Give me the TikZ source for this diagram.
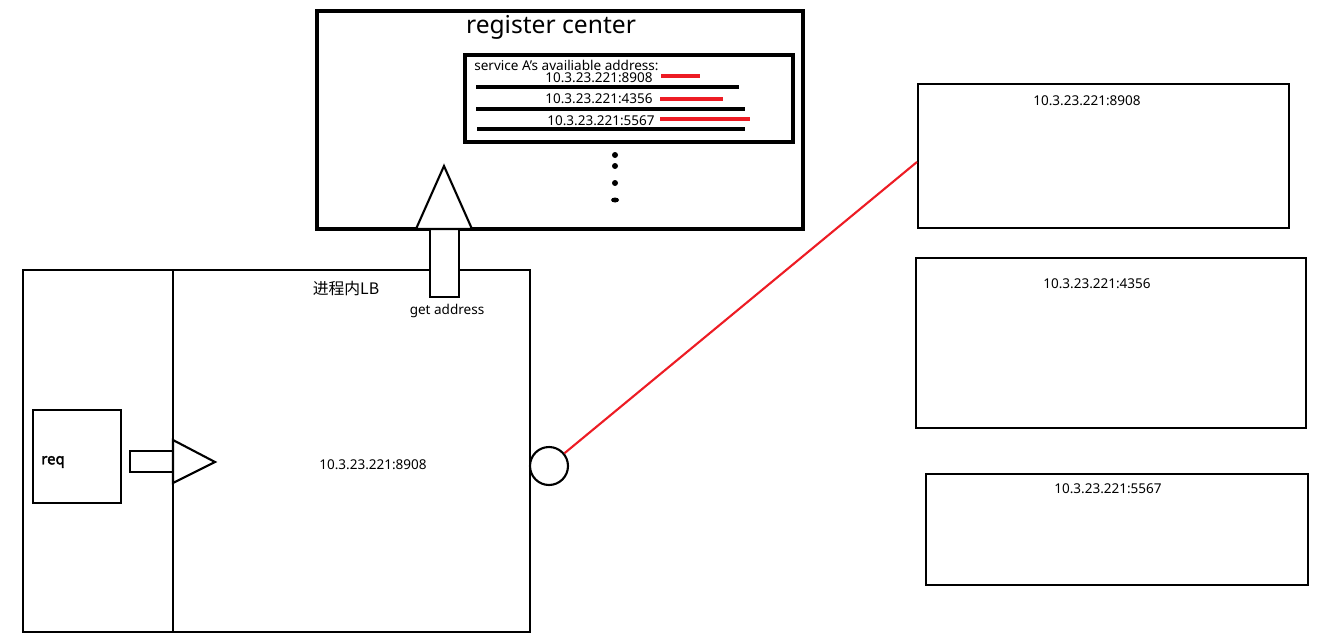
\documentclass[tikz,border=0pt]{standalone}
\usepackage{fontspec}
\setmainfont{Noto Sans}
\newfontfamily\cjk{Noto Sans CJK SC}
\newfontfamily\fett[FakeBold=2.5]{Noto Sans}
\usetikzlibrary{fit}
\definecolor{paintred}{RGB}{237,28,36}
\tikzset{
	kasten/.style={draw, line width=1.2pt, inner sep=0pt},
	dickkasten/.style={draw, line width=2.3pt, inner sep=0pt},
	txt/.style={inner sep=0pt, font=\fontsize{7.7}{9}\selectfont},
	strich/.style={line width=2.1pt},
}
\begin{document}
\begin{tikzpicture}[x=0.02cm,y=-0.02cm]
	\useasboundingbox (0,0) rectangle (1341,635);
	\node[dickkasten, fit={(317,11) (803,229)}] (reg) {};%register center
	\node[inner sep=0pt, font=\fontsize{14}{16}\selectfont] (regtitel) at (551,27) {register center};
	\node[dickkasten, fit={(465,55) (793,142)}] (liste) {};%Adressliste
	\node[txt, anchor=west] (listkopf) at (474,65) {service A's availiable address:};
	\node[txt] (adr1) at (599,78) {10.3.23.221:8908};
	\node[txt] (adr2) at (599,99) {10.3.23.221:4356};
	\node[txt] (adr3) at (601,121) {10.3.23.221:5567};
	\draw[strich, paintred] (661,76) -- (700,76);%rot 1
	\draw[strich, paintred] (660,99) -- (723,99);%rot 2
	\draw[strich, paintred] (660,119) -- (750,119);%rot 3
	\draw[strich] (476,87) -- (739,87);%Linie 1
	\draw[strich] (476,109) -- (745,109);%Linie 2
	\draw[strich] (477,129) -- (745,129);%Linie 3
	\fill (615,155) circle (0.06cm);%Punkte
	\fill (615,166) circle (0.06cm);
	\fill (615,183) circle (0.06cm);
	\fill (615,200) ellipse (0.08cm and 0.05cm);
	\node[kasten, fit={(23,270) (530,632)}] (lb) {};%Prozess
	\draw[line width=1.2pt] (173,270) -- (173,632);%Trennlinie
	\node[inner sep=0pt, font=\cjk\fontsize{9}{11}\selectfont] (lbtitel) at (346,289) {进程内LB};
	\draw[line width=1.2pt, fill=white] (430,229) rectangle (459,297);%Pfeil hoch Schaft
	\draw[line width=1.2pt, fill=white] (416,229) -- (444,166) -- (472,229) -- cycle;%Pfeil hoch Spitze
	\node[txt] (getadr) at (447,311) {get address};
	\node[kasten, fit={(33,410) (121,503)}] (req) {};%req
	\node[txt, font=\fett\fontsize{8.5}{10}\selectfont] (reqtxt) at (53,462) {req};
	\draw[line width=1.2pt] (130,451) rectangle (173,472);%Pfeil rechts Schaft
	\draw[line width=1.2pt, fill=white] (173,440) -- (215,462) -- (173,483) -- cycle;%Pfeil rechts Spitze
	\node[txt] (lbadr) at (373,465) {10.3.23.221:8908};
	\node[draw, circle, line width=1.2pt, minimum size=0.76cm, inner sep=0pt] (port) at (549,466) {};%Port
	\node[kasten, fit={(918,84) (1289,228)}] (srv1) {};%Server 1
	\node[kasten, fit={(916,258) (1306,428)}] (srv2) {};%Server 2
	\node[kasten, fit={(926,474) (1308,585)}] (srv3) {};%Server 3
	\node[txt] (srv1adr) at (1087,101) {10.3.23.221:8908};
	\node[txt] (srv2adr) at (1097,284) {10.3.23.221:4356};
	\node[txt] (srv3adr) at (1108,489) {10.3.23.221:5567};
	\draw[paintred, line width=1.2pt] (port) -- ([yshift=-0.12cm]srv1.west);%Verbindung
\end{tikzpicture}
\end{document}
